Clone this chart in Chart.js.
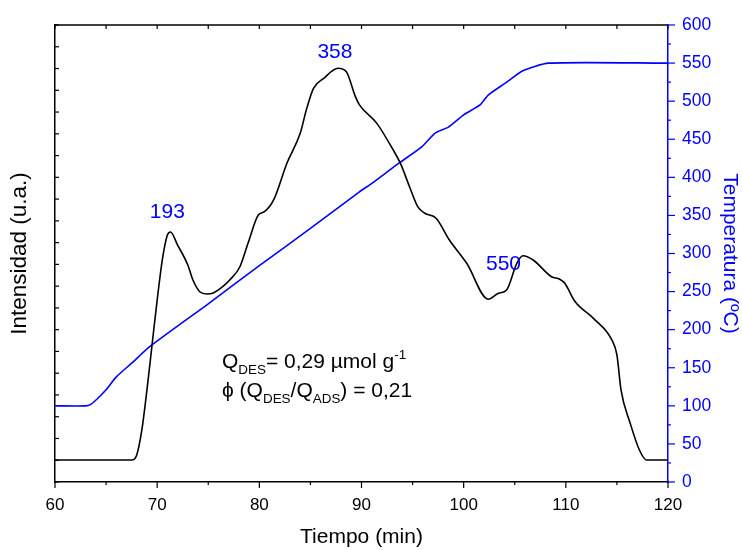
<!DOCTYPE html>
<html>
<head>
<meta charset="utf-8">
<script src="https://cdn.jsdelivr.net/npm/chart.js@4.4.1/dist/chart.umd.min.js"></script>
<style>
  html, body { margin: 0; padding: 0; background: #fff; }
  #wrap { width: 742px; height: 550px; }
</style>
</head>
<body>
<div id="wrap"><canvas id="tpd" width="742" height="550"></canvas></div>
<script>
// Intensidad (u.a.) vs tiempo (min) - curva negra
const tiempoI = [60, 67.5, 68.0, 68.5, 69, 69.5, 70, 70.5, 71.0, 71.3, 72, 73, 73.5, 74.2, 74.85, 75.5, 76.5, 77.1, 78.1, 78.9,
  79.9, 80.5, 81.4, 82.7, 84, 84.6, 85.3, 86.3, 87.7, 88.5, 89.4, 89.8, 91.5, 93.1, 93.8, 94.7, 95.5, 96.2, 97.3, 98.6,
  100.3, 102.4, 103.4, 104.2, 105.2, 105.8, 106.8, 108.6, 109.4, 109.9, 110.9, 112.7, 114.5, 115.0, 115.4, 116.3, 117.2, 117.9, 120];
const intensidad = [1.01, 1.01, 1.24, 2.39, 4.23, 6.30, 8.36, 10.20, 11.35, 11.49, 10.89, 9.97, 9.28, 8.73, 8.64, 8.69, 9.01, 9.28, 9.89, 10.98,
  12.27, 12.42, 12.96, 14.65, 16.02, 17.10, 18.09, 18.55, 19.01, 18.86, 17.71, 17.33, 16.48, 15.26, 14.65, 13.57, 12.65, 12.35, 12.12, 11.12,
  10.05, 8.40, 8.67, 8.82, 10.05, 10.40, 10.20, 9.43, 9.32, 9.13, 8.29, 7.52, 6.53, 5.84, 4.23, 2.70, 1.47, 1.01, 1.01];

// Temperatura (°C) - curva azul
const tiempoT = [60, 63, 63.5, 64.2, 65, 66, 67.5, 69.3, 75, 80, 85, 89.8, 90.8, 93.6, 95.9, 97.2, 98.5, 100, 101.6, 102.4, 104, 105.8, 108.3, 120];
const temperatura = [100, 100, 102, 110, 121, 138, 156, 178, 234, 284, 333, 381, 390, 418, 440, 458, 466, 482, 495, 508, 523, 540, 550, 550];

const xTicks = [60, 70, 80, 90, 100, 110, 120];
const tTicks = [0, 50, 100, 150, 200, 250, 300, 350, 400, 450, 500, 550, 600];

// etiquetas de picos: [texto, tiempo, intensidad]
const picos = [["193", 71.0, 12.5], ["358", 87.4, 19.85], ["550", 103.9, 10.1]];

const AZUL = '#0000ff';
const FUENTE = '"Liberation Sans", Arial, sans-serif';

const toXY = (xs, ys) => xs.map((x, i) => ({ x, y: ys[i] }));

// dibuja texto con subindices / superindices
function drawRich(ctx, x, y, parts, size) {
  parts.forEach(([txt, kind]) => {
    let fs = size, dy = 0;
    if (kind === 'sub') { fs = size * 0.64; dy = size * 0.28; }
    if (kind === 'sup') { fs = size * 0.64; dy = -size * 0.45; }
    ctx.font = fs + 'px ' + FUENTE;
    ctx.fillText(txt, x, y + dy);
    x += ctx.measureText(txt).width;
  });
}

const extras = {
  id: 'extras',
  afterDraw(chart) {
    const { ctx, chartArea: a, scales } = chart;
    const sx = scales.x, sy = scales.y, st = scales.y2;
    ctx.save();
    // marco superior
    ctx.strokeStyle = '#000';
    ctx.lineWidth = 1.5;
    ctx.beginPath(); ctx.moveTo(a.left, a.top); ctx.lineTo(a.right, a.top); ctx.stroke();

    ctx.lineWidth = 1.2;
    // ticks eje x (abajo hacia fuera, arriba hacia dentro)
    for (let t = 60; t <= 120; t += 5) {
      const px = sx.getPixelForValue(t);
      const len = t % 10 === 0 ? 6 : 3;
      ctx.beginPath();
      ctx.moveTo(px, a.bottom); ctx.lineTo(px, a.bottom + len);
      ctx.moveTo(px, a.top); ctx.lineTo(px, a.top + 4);
      ctx.stroke();
    }
    // ticks eje izquierdo hacia dentro
    for (let v = 0; v <= 21; v++) {
      const py = sy.getPixelForValue(v);
      ctx.beginPath(); ctx.moveTo(a.left, py); ctx.lineTo(a.left + 4, py); ctx.stroke();
    }
    // ticks eje derecho (azul)
    ctx.strokeStyle = AZUL;
    for (let v = 0; v <= 600; v += 25) {
      const py = st.getPixelForValue(v);
      const len = v % 50 === 0 ? 7 : 3;
      ctx.beginPath(); ctx.moveTo(a.right, py); ctx.lineTo(a.right + len, py); ctx.stroke();
    }

    // etiquetas de los picos
    ctx.fillStyle = AZUL;
    ctx.font = '21px ' + FUENTE;
    ctx.textAlign = 'center';
    ctx.textBaseline = 'alphabetic';
    picos.forEach(([txt, t, v]) => {
      ctx.fillText(txt, sx.getPixelForValue(t), sy.getPixelForValue(v) + 8);
    });

    // texto con Q_DES
    ctx.fillStyle = '#000';
    ctx.textAlign = 'left';
    drawRich(ctx, 222, 368, [['Q'], ['DES', 'sub'], ['= 0,29 \u00b5mol g'], ['-1', 'sup']], 21);
    drawRich(ctx, 222, 397, [['\u03d5 ('], ['Q'], ['DES', 'sub'], ['/Q'], ['ADS', 'sub'], [') = 0,21']], 21);
    ctx.restore();
  }
};

new Chart(document.getElementById('tpd'), {
  type: 'line',
  data: {
    datasets: [
      {
        label: 'Intensidad',
        data: toXY(tiempoI, intensidad),
        yAxisID: 'y',
        borderColor: '#000',
        borderWidth: 1.6,
        pointRadius: 0,
        cubicInterpolationMode: 'monotone',
        fill: false
      },
      {
        label: 'Temperatura',
        data: toXY(tiempoT, temperatura),
        yAxisID: 'y2',
        borderColor: AZUL,
        borderWidth: 1.6,
        pointRadius: 0,
        tension: 0.2,
        fill: false
      }
    ]
  },
  options: {
    responsive: false,
    animation: false,
    layout: { padding: { top: 25, left: 0, right: 0, bottom: 0 } },
    plugins: { legend: { display: false }, tooltip: { enabled: false } },
    scales: {
      x: {
        type: 'linear', min: 60, max: 120,
        afterFit: s => { s.height = 68; },
        afterBuildTicks: s => { s.ticks = xTicks.map(value => ({ value })); },
        grid: { display: false, drawTicks: false },
        border: { display: true, color: '#000', width: 1.5 },
        ticks: { color: '#000', font: { family: FUENTE, size: 17 }, padding: 13, maxRotation: 0 },
        title: { display: true, text: 'Tiempo (min)', color: '#000', font: { family: FUENTE, size: 21 }, padding: { top: 0, bottom: 0 } }
      },
      y: {
        type: 'linear', position: 'left', min: 0, max: 21,
        afterFit: s => { s.width = 55; },
        grid: { display: false, drawTicks: false },
        border: { display: true, color: '#000', width: 1.5 },
        ticks: { display: false },
        title: { display: true, text: 'Intensidad (u.a.)', color: '#000', font: { family: FUENTE, size: 22.5 }, padding: { top: 6, bottom: 0 } }
      },
      y2: {
        type: 'linear', position: 'right', min: 0, max: 600,
        afterFit: s => { s.width = 74; },
        afterBuildTicks: s => { s.ticks = tTicks.map(value => ({ value })); },
        grid: { display: false, drawTicks: false },
        border: { display: true, color: AZUL, width: 1.5 },
        ticks: { color: AZUL, font: { family: FUENTE, size: 17.5 }, padding: 14 },
        title: { display: true, text: 'Temperatura (\u00baC)', color: AZUL, font: { family: FUENTE, size: 21 }, padding: { top: 0, bottom: 1 } }
      }
    }
  },
  plugins: [extras]
});
</script>
</body>
</html>
